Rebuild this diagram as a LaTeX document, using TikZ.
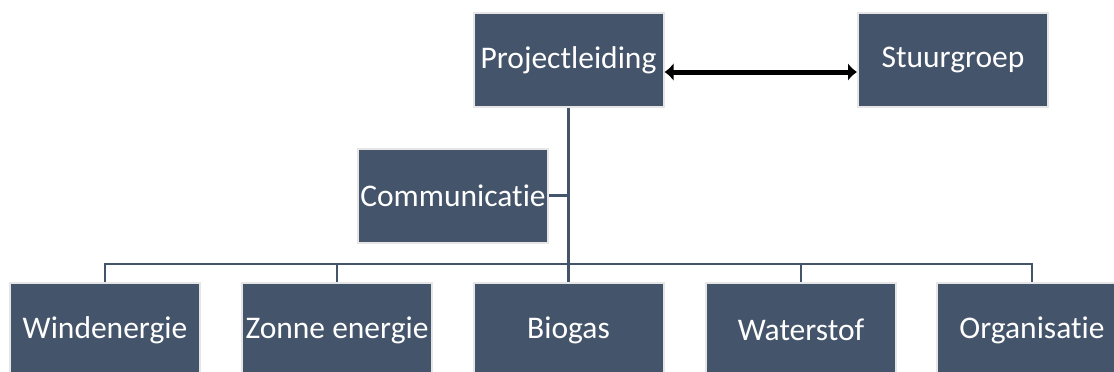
\documentclass[tikz,border=0pt]{standalone}
\usepackage{fontspec}
\setmainfont{Carlito}[Ligatures=NoCommon]
\usetikzlibrary{arrows.meta}
\definecolor{boxfill}{HTML}{44546A}
\definecolor{boxedge}{HTML}{E7E6E6}
\begin{document}
\begin{tikzpicture}[x=1pt,y=-1pt,
  orgbox/.style={rectangle, fill=boxfill, draw=boxedge, line width=2pt,
    minimum width=190pt, minimum height=94pt, inner sep=0pt,
    text=white, font=\fontsize{31.5}{36}\selectfont},
  conn/.style={draw=boxfill, line width=2.8pt},
  dbl/.style={line width=5pt, {Latex[length=9pt,width=18pt]}-{Latex[length=9pt,width=18pt]}}]
\useasboundingbox (0,0) rectangle (1114,372);
\clip (0,0) rectangle (1114,372);
\fill[white] (0,0) rectangle (1114,372);
\node[orgbox] (proj) at (568.5,60) {Projectleiding};
\node[orgbox] (stuur) at (953,60) {Stuurgroep};
\node[orgbox] (comm) at (453,195.5) {Communicatie};
\node[orgbox] (wind) at (105,330) {Windenergie};
\node[orgbox] (zon) at (337,330) {Zonne energie};
\node[orgbox] (bio) at (568.5,330) {Biogas};
\node[orgbox] (wat) at (801,330) {Waterstof};
\node[orgbox] (org) at (1032,330) {Organisatie};
\coordinate (bar) at (568.5,264);
\draw[dbl] ([yshift=-12pt]proj.east) -- ([yshift=-12pt]stuur.west);
\draw[conn] (proj.south) -- (bio.north);
\draw[conn] (comm.east) -- (comm.east -| proj.south);
\draw[conn] (wind.north) -- (wind.north |- bar) -| (org.north);
\draw[conn] (zon.north) -- (zon.north |- bar);
\draw[conn] (wat.north) -- (wat.north |- bar);
\end{tikzpicture}
\end{document}
